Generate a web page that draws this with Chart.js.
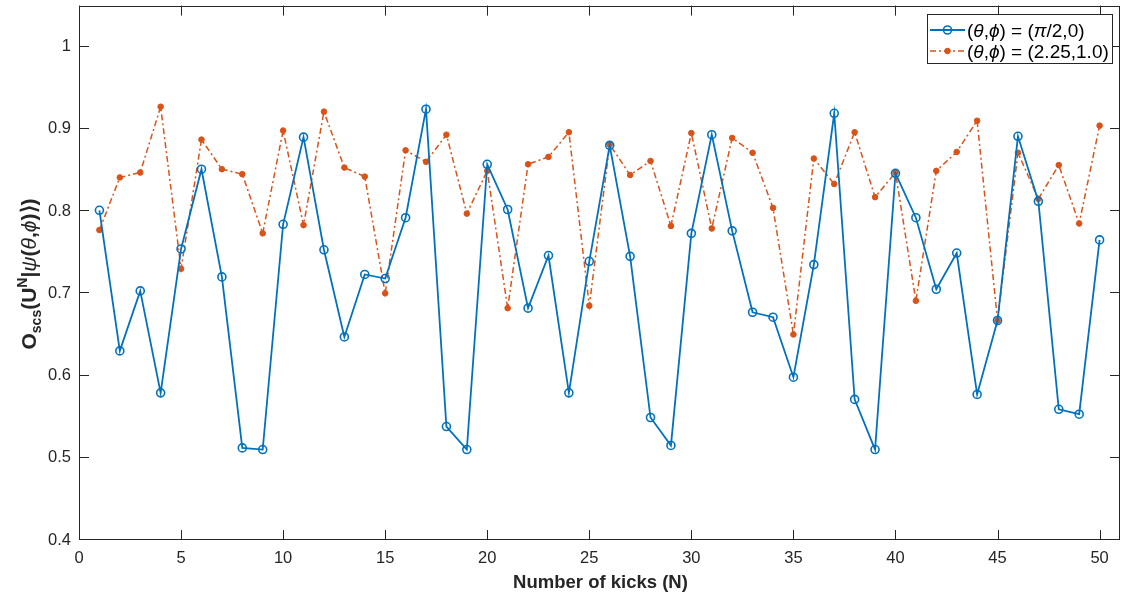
<!DOCTYPE html>
<html lang="en">
<head>
<meta charset="UTF-8" />
<script src="https://cdn.jsdelivr.net/npm/chart.js@4.4.0/dist/chart.umd.min.js"></script>
<title>Kicks</title>
<style>
  html, body { margin: 0; padding: 0; background: #fff; }
  #wrap { width: 1126px; height: 596px; }
</style>
</head>
<body>
<div id="wrap"><canvas id="myChart" width="1126" height="596"></canvas></div>
<script>
const kicks = [1,2,3,4,5,6,7,8,9,10,11,12,13,14,15,16,17,18,19,20,21,22,23,24,25,
               26,27,28,29,30,31,32,33,34,35,36,37,38,39,40,41,42,43,44,45,46,47,48,49,50];
// (theta,phi) = (pi/2,0)
const seriesA = [0.801,0.630,0.703,0.579,0.754,0.851,0.720,0.512,0.510,0.784,
                 0.890,0.753,0.647,0.723,0.718,0.792,0.924,0.538,0.510,0.857,
                 0.802,0.682,0.746,0.579,0.739,0.880,0.745,0.549,0.515,0.773,
                 0.893,0.776,0.677,0.671,0.598,0.735,0.919,0.571,0.510,0.846,
                 0.792,0.705,0.749,0.577,0.667,0.891,0.812,0.559,0.553,0.765];
// (theta,phi) = (2.25,1.0)
const seriesB = [0.777,0.841,0.847,0.927,0.730,0.887,0.851,0.845,0.773,0.898,
                 0.783,0.921,0.853,0.842,0.700,0.874,0.860,0.893,0.797,0.849,
                 0.682,0.857,0.866,0.896,0.685,0.881,0.844,0.861,0.782,0.895,
                 0.779,0.889,0.871,0.804,0.650,0.864,0.833,0.896,0.817,0.847,
                 0.691,0.849,0.872,0.910,0.667,0.871,0.815,0.856,0.785,0.904];
const xTicks = [0,5,10,15,20,25,30,35,40,45,50];
const yTicks = [0.4,0.5,0.6,0.7,0.8,0.9,1.0];

const blue = '#0072BD';
const orange = '#D95319';
const axisColor = '#262626';
const fontFam = '"Liberation Sans", Arial, Helvetica, sans-serif';

// draws a list of [text, font, dy] pieces in a row, returns width
function drawPieces(ctx, pieces, x, y, measureOnly) {
  let w = 0;
  pieces.forEach(p => {
    ctx.font = p[1];
    if (!measureOnly) ctx.fillText(p[0], x + w, y + (p[2] || 0));
    w += ctx.measureText(p[0]).width;
  });
  return w;
}

const extras = {
  id: 'extras',
  afterDraw(chart) {
    const ctx = chart.ctx;
    const a = chart.chartArea;
    const xs = chart.scales.x, ys = chart.scales.y;
    ctx.save();
    // box
    ctx.strokeStyle = axisColor;
    ctx.lineWidth = 1;
    ctx.strokeRect(Math.round(a.left) + 0.5, Math.round(a.top) + 0.5,
                   Math.round(a.right - a.left) - 1, Math.round(a.bottom - a.top) - 1);
    // inward ticks on all sides
    ctx.beginPath();
    xTicks.forEach(v => {
      const px = Math.round(xs.getPixelForValue(v)) + 0.5;
      ctx.moveTo(px, a.bottom); ctx.lineTo(px, a.bottom - 10);
      ctx.moveTo(px, a.top); ctx.lineTo(px, a.top + 10);
    });
    yTicks.forEach(v => {
      const py = Math.round(ys.getPixelForValue(v)) - 0.5;
      ctx.moveTo(a.left, py); ctx.lineTo(a.left + 10, py);
      ctx.moveTo(a.right, py); ctx.lineTo(a.right - 10, py);
    });
    ctx.stroke();

    ctx.fillStyle = axisColor;
    ctx.textBaseline = 'alphabetic';
    // x title
    ctx.font = 'bold 18.5px ' + fontFam;
    ctx.textAlign = 'center';
    ctx.fillText('Number of kicks (N)', (a.left + a.right) / 2 + 1, 588);

    // y title
    ctx.textAlign = 'left';
    const B = 'bold 21px ' + fontFam, S = 'bold 14px ' + fontFam, I = 'italic 21px ' + fontFam;
    const yPieces = [['O', B], ['scs', S, 5], ['(U', B], ['N', S, -9], ['|', B],
                     ['ψ', I], ['(', B], ['θ', I], [',', B], ['ϕ', I], [')⟩)', B]];
    ctx.translate(36, 274);
    ctx.rotate(-Math.PI / 2);
    const tw = drawPieces(ctx, yPieces, 0, 0, true);
    drawPieces(ctx, yPieces, -tw / 2, 0, false);
    ctx.setTransform(1, 0, 0, 1, 0, 0);

    // legend
    const lx = 927, ly = 14, lw = 185, lh = 49;
    ctx.fillStyle = '#fff';
    ctx.fillRect(lx, ly, lw, lh);
    ctx.strokeStyle = axisColor;
    ctx.lineWidth = 1;
    ctx.strokeRect(lx + 0.5, ly + 0.5, lw, lh);
    const N = '19px ' + fontFam, IT = 'italic 19px ' + fontFam;
    const rows = [
      { ds: chart.data.datasets[0], y: 30,
        pieces: [['(', N], ['θ', IT], [',', N], ['ϕ', IT], [') = (', N], ['π', IT], ['/2,0)', N]] },
      { ds: chart.data.datasets[1], y: 51,
        pieces: [['(', N], ['θ', IT], [',', N], ['ϕ', IT], [') = (2.25,1.0)', N]] }
    ];
    rows.forEach(r => {
      ctx.strokeStyle = r.ds.borderColor;
      ctx.lineWidth = r.ds.borderWidth;
      ctx.setLineDash(r.ds.borderDash || []);
      ctx.beginPath();
      ctx.moveTo(930, r.y); ctx.lineTo(965, r.y);
      ctx.stroke();
      ctx.setLineDash([]);
      ctx.beginPath();
      ctx.arc(947.5, r.y, r.ds.pointRadius, 0, Math.PI * 2);
      if (r.ds.pointBackgroundColor !== 'transparent') {
        ctx.fillStyle = r.ds.pointBackgroundColor; ctx.fill();
      }
      ctx.lineWidth = r.ds.pointBorderWidth;
      ctx.strokeStyle = r.ds.pointBorderColor;
      ctx.stroke();
      ctx.fillStyle = '#000';
      drawPieces(ctx, r.pieces, 967, r.y + 7, false);
    });
    ctx.restore();
  }
};

const ctx = document.getElementById('myChart').getContext('2d');
const myChart = new Chart(ctx, {
  type: 'line',
  data: {
    datasets: [
      {
        label: '(θ,ϕ) = (π/2,0)',
        data: kicks.map((k, i) => ({ x: k, y: seriesA[i] })),
        borderColor: blue,
        borderWidth: 1.8,
        pointRadius: 4,
        pointBorderWidth: 1.6,
        pointBorderColor: blue,
        pointBackgroundColor: 'transparent',
        tension: 0
      },
      {
        label: '(θ,ϕ) = (2.25,1.0)',
        data: kicks.map((k, i) => ({ x: k, y: seriesB[i] })),
        borderColor: orange,
        borderWidth: 1.5,
        borderDash: [6, 3, 2, 3],
        pointRadius: 2.8,
        pointBorderWidth: 1,
        pointBorderColor: orange,
        pointBackgroundColor: orange,
        tension: 0
      }
    ]
  },
  options: {
    responsive: false,
    animation: false,
    layout: { padding: { left: 0, top: 5, right: 6, bottom: 0 } },
    plugins: { legend: { display: false }, tooltip: { enabled: false }, title: { display: false } },
    scales: {
      x: {
        type: 'linear',
        min: 0, max: 51,
        grid: { display: false, drawTicks: false },
        border: { display: false },
        afterBuildTicks: s => { s.ticks = xTicks.map(v => ({ value: v })); },
        afterFit: s => { s.height = 56; s.paddingLeft = 0; s.paddingRight = 0; },
        ticks: { color: axisColor, padding: 9, maxRotation: 0,
                 font: { family: fontFam, size: 16.5 } }
      },
      y: {
        min: 0.4, max: 1.05,
        grid: { display: false, drawTicks: false },
        border: { display: false },
        afterBuildTicks: s => { s.ticks = yTicks.map(v => ({ value: v })); },
        afterFit: s => { s.width = 79; s.paddingTop = 0; s.paddingBottom = 0; },
        ticks: { color: axisColor, padding: 8,
                 font: { family: fontFam, size: 16.5 },
                 callback: v => String(Math.round(v * 10) / 10) }
      }
    }
  },
  plugins: [extras]
});
</script>
</body>
</html>
